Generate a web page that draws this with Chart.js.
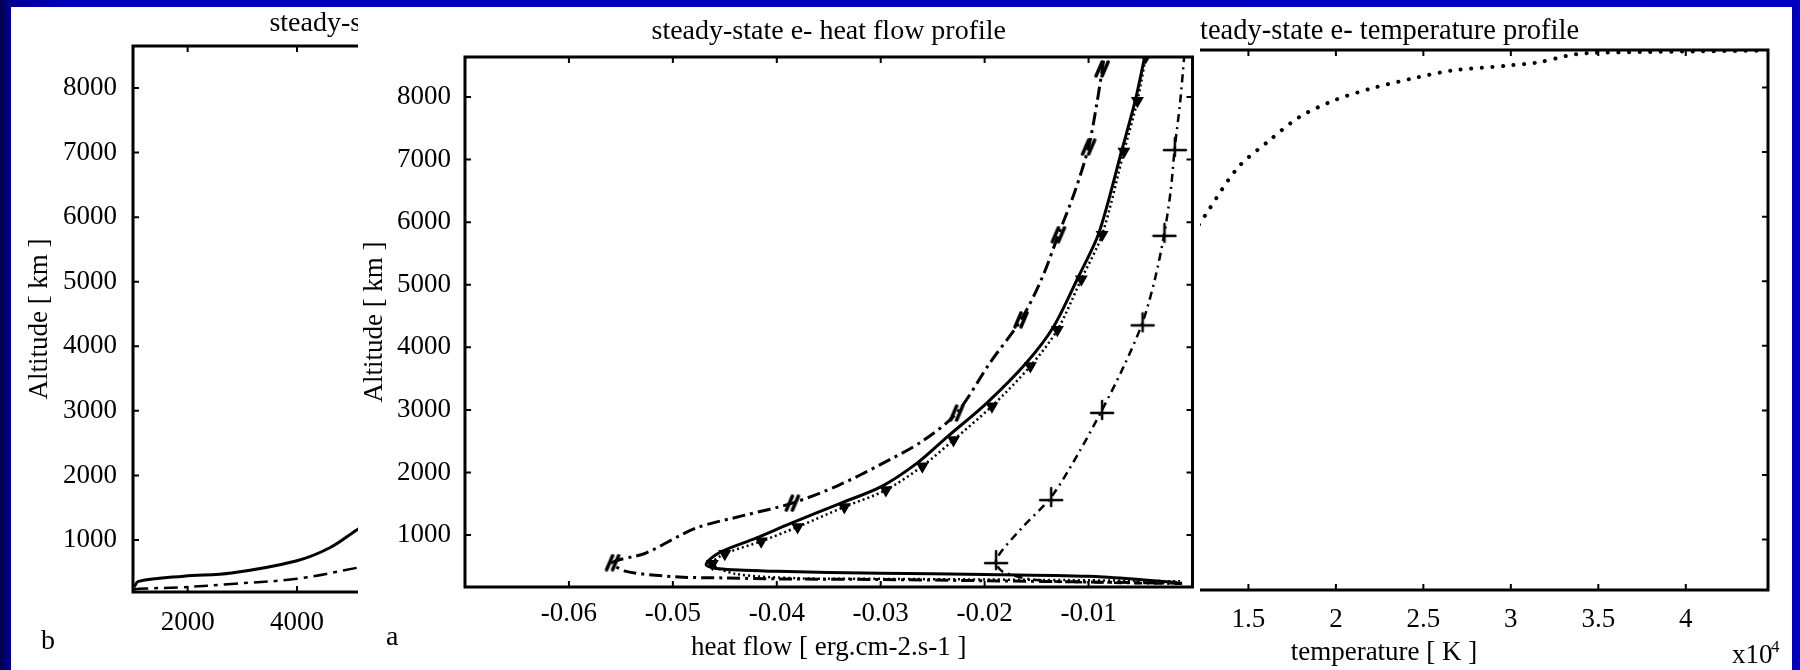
<!DOCTYPE html>
<html>
<head>
<meta charset="utf-8">
<script src="https://cdn.jsdelivr.net/npm/chart.js@4.4.1/dist/chart.umd.min.js"></script>
<style>
  html, body { margin: 0; padding: 0; }
  body {
    width: 1800px; height: 670px; overflow: hidden; position: relative;
    background: linear-gradient(90deg, #000048 0px, #000090 9px, #0000b4 60px, #0000c0 100%);
  }
  .sheet { position: absolute; left: 11px; top: 7px; width: 1781px; height: 663px; background: #fff; }
  .panel { position: absolute; top: 7px; height: 663px; background: #fff; }
  #panelB { left: 11px; width: 800px; z-index: 1; }
  #panelC { left: 900px; width: 892px; z-index: 2; }
  #panelA { left: 358px; width: 842px; z-index: 3; }
</style>
</head>
<body>
<div class="sheet"></div>
<div class="panel" id="panelB"><canvas id="chartB"></canvas></div>
<div class="panel" id="panelC"><canvas id="chartC"></canvas></div>
<div class="panel" id="panelA"><canvas id="chartA"></canvas></div>
<script>
// shared altitude axis
const altTicks = [1000, 2000, 3000, 4000, 5000, 6000, 7000, 8000];

// panel b - e- temperature [K]
const bTicksX = [2000, 4000, 6000, 8000, 10000, 12000];
const bSolidT = [1020, 1100, 1930, 2800, 4000, 4600, 5100, 5300];
const bSolidAlt = [270, 360, 440, 490, 680, 880, 1160, 1260];
const bDashT = [1020, 1100, 1930, 2800, 4000, 5100, 5300];
const bDashAlt = [235, 245, 270, 320, 400, 570, 610];

// panel a - e- heat flow [erg.cm-2.s-1]
const hfTicks = [-0.06, -0.05, -0.04, -0.03, -0.02, -0.01];
const hfTickLabels = ["-0.06", "-0.05", "-0.04", "-0.03", "-0.02", "-0.01"];

const hfSlash = [-0.0010, -0.0100, -0.0200, -0.0300, -0.0400, -0.0450, -0.0494, -0.0545, -0.0558, -0.0526, -0.0478, -0.0430, -0.0385, -0.0340, -0.0300, -0.0260, -0.0227, -0.0195, -0.0165, -0.0145, -0.0129, -0.0113, -0.0100, -0.0092, -0.0085];
const altSlash = [230, 250, 270, 290, 300, 315, 330, 420, 560, 712, 1110, 1320, 1510, 1800, 2130, 2500, 2950, 3750, 4440, 5100, 5800, 6500, 7200, 7900, 8640];
const hfSlashMarks = [-0.0558, -0.0385, -0.0227, -0.0165, -0.0129, -0.0100, -0.0087];
const altSlashMarks = [560, 1510, 2950, 4440, 5800, 7200, 8450];

const hfSolid = [-0.0015, -0.0060, -0.0100, -0.0200, -0.0300, -0.0400, -0.0456, -0.0468, -0.0456, -0.0420, -0.0386, -0.0340, -0.0300, -0.0265, -0.0236, -0.0198, -0.0160, -0.0134, -0.0110, -0.0090, -0.0068, -0.0055, -0.0046];
const altSolid = [240, 300, 340, 370, 390, 420, 460, 530, 712, 950, 1190, 1500, 1770, 2150, 2570, 3110, 3750, 4320, 5120, 5830, 7150, 7950, 8640];

const hfDot = [-0.0012, -0.0060, -0.0120, -0.0200, -0.0300, -0.0380, -0.0440, -0.0462, -0.0450, -0.0415, -0.0380, -0.0335, -0.0295, -0.0260, -0.0230, -0.0193, -0.0156, -0.0130, -0.0107, -0.0087, -0.0066, -0.0053, -0.0045];
const altDot = [260, 270, 280, 290, 300, 310, 380, 540, 700, 900, 1130, 1450, 1720, 2100, 2520, 3060, 3700, 4280, 5090, 5800, 7130, 7940, 8640];

const hfPlus = [-0.0010, -0.0080, -0.0150, -0.0183, -0.0189, -0.0165, -0.0136, -0.0110, -0.0087, -0.0066, -0.0048, -0.0036, -0.0027, -0.0021, -0.0017, -0.0012, -0.0008];
const altPlus = [220, 240, 280, 420, 600, 1100, 1607, 2300, 3000, 3700, 4400, 5100, 5830, 6500, 7200, 7900, 8640];
const hfPlusMarks = [-0.0189, -0.0136, -0.0087, -0.0048, -0.0027, -0.0017];
const altPlusMarks = [600, 1607, 3000, 4400, 5830, 7200];

// panel c - e- temperature [x10^4 K]
const cTicksX = [0.5, 1, 1.5, 2, 2.5, 3, 3.5, 4];
const cTickLabels = ["0.5", "1", "1.5", "2", "2.5", "3", "3.5", "4"];
const tempC = [1.15, 1.26, 1.44, 1.62, 1.79, 1.99, 2.21, 2.44, 2.66, 2.99, 3.16, 3.32, 3.43, 3.80, 4.09, 4.42];
const altC = [5600, 6050, 6760, 7180, 7540, 7800, 7990, 8140, 8260, 8340, 8390, 8490, 8530, 8550, 8560, 8570];

Chart.defaults.font.family = "'Liberation Serif', 'Times New Roman', serif";
Chart.defaults.color = "#000";

const pts = (xs, ys) => xs.map((x, i) => ({ x: x, y: ys[i] }));

function markerCanvas(w, h, draw) {
    const c = document.createElement("canvas");
    c.width = w; c.height = h;
    const g = c.getContext("2d");
    g.strokeStyle = "#000";
    g.lineCap = "round";
    draw(g);
    return c;
}
const slashMark = markerCanvas(18, 18, g => {
    g.lineWidth = 3.5;
    g.beginPath();
    g.moveTo(3, 16); g.lineTo(9, 2);
    g.moveTo(9, 16); g.lineTo(15, 2);
    g.stroke();
});
const plusMark = markerCanvas(26, 22, g => {
    g.lineWidth = 2.5;
    g.beginPath();
    g.moveTo(2, 14); g.lineTo(24, 14);
    g.moveTo(13, 2); g.lineTo(13, 20);
    g.stroke();
});

// box frame with inward ticks on all four sides, plus loose labels
const framePlugin = {
    id: "frame",
    afterDraw(chart, args, opts) {
        const { ctx, chartArea: a, scales: { x, y } } = chart;
        ctx.save();
        ctx.strokeStyle = "#000";
        ctx.lineWidth = 3;
        ctx.strokeRect(a.left, a.top, a.right - a.left, a.bottom - a.top);
        ctx.lineWidth = 2;
        ctx.beginPath();
        x.ticks.forEach(t => {
            const px = x.getPixelForValue(t.value);
            if (px <= a.left || px >= a.right) return;
            ctx.moveTo(px, a.bottom); ctx.lineTo(px, a.bottom - 6);
            ctx.moveTo(px, a.top); ctx.lineTo(px, a.top + 6);
        });
        y.ticks.forEach(t => {
            const py = y.getPixelForValue(t.value);
            ctx.moveTo(a.left, py); ctx.lineTo(a.left + 6, py);
            ctx.moveTo(a.right, py); ctx.lineTo(a.right - 6, py);
        });
        ctx.stroke();
        ctx.fillStyle = "#000";
        ctx.textBaseline = "middle";
        (opts.notes || []).forEach(n => {
            ctx.font = n.size + "px 'Liberation Serif', serif";
            ctx.textAlign = "left";
            const px = (n.from === "right" ? a.right : a.left) + n.dx;
            ctx.fillText(n.text, px, a.bottom + n.dy);
        });
        ctx.restore();
    }
};

function axisX(min, max, ticks, labels, height, pad, title, titlePad) {
    return {
        type: "linear", position: "bottom", min: min, max: max,
        afterBuildTicks: s => { s.ticks = ticks.map(v => ({ value: v })); },
        afterFit: s => { s.height = height; },
        grid: { display: false }, border: { display: false },
        ticks: { padding: pad, font: { size: 27 }, maxRotation: 0, autoSkip: false, callback: (v, i) => labels[i] },
        title: { display: !!title, text: title || "", font: { size: 27 }, padding: { top: 0, bottom: titlePad || 0 } }
    };
}
function axisY(min, max, width, pad, showLabels, titlePad) {
    return {
        type: "linear", min: min, max: max,
        afterBuildTicks: s => { s.ticks = altTicks.map(v => ({ value: v })); },
        afterFit: s => { s.width = width; },
        grid: { display: false }, border: { display: false },
        ticks: { display: showLabels, padding: pad, font: { size: 27 }, autoSkip: false, callback: v => String(v) },
        title: { display: showLabels, text: "Altitude [ km ]", font: { size: 27 }, padding: { top: titlePad, bottom: 0 } }
    };
}
function titleOpts(text, size, top, bottom) {
    return { display: true, text: text, fullSize: false, font: { size: size, weight: "normal" }, padding: { top: top, bottom: bottom } };
}

// Panel b (left, mostly hidden)
let chartB = new Chart(document.getElementById("chartB"), {
    type: "scatter",
    data: {
        datasets: [
            { data: pts(bSolidT, bSolidAlt), showLine: true, borderColor: "#000", borderWidth: 3, pointRadius: 0, tension: 0.35 },
            { data: pts(bDashT, bDashAlt), showLine: true, borderColor: "#000", borderWidth: 2.5, borderDash: [14, 6, 4, 6], pointRadius: 0, tension: 0.35 }
        ]
    },
    options: {
        responsive: true, maintainAspectRatio: false, animation: false,
        layout: { padding: { left: 0, right: 22, top: 0, bottom: 0 } },
        scales: {
            x: axisX(1000, 13000, bTicksX, bTicksX.map(String), 78, 6.8, null),
            y: axisY(195, 8650, 122, 8, true, 12.8)
        },
        plugins: {
            legend: { display: false }, tooltip: { enabled: false },
            title: titleOpts("steady-state e- temperature profile", 28, 0, 5.4),
            frame: { notes: [{ text: "b", dx: -92, dy: 50, size: 28 }] }
        }
    },
    plugins: [framePlugin]
});

// Panel c (right)
let chartC = new Chart(document.getElementById("chartC"), {
    type: "scatter",
    data: {
        datasets: [
            { data: pts(tempC, altC), showLine: true, borderColor: "#000", borderWidth: 4, borderDash: [0.1, 10.5], borderCapStyle: "round", pointRadius: 0, tension: 0.3 }
        ]
    },
    options: {
        responsive: true, maintainAspectRatio: false, animation: false,
        layout: { padding: { left: 0, right: 24, top: 0, bottom: 0 } },
        scales: {
            x: axisX(0.08, 4.47, cTicksX, cTickLabels, 80, 5.8, "temperature [ K ]", 0.8),
            y: axisY(220, 8580, 100, 7, false, 0)
        },
        plugins: {
            legend: { display: false }, tooltip: { enabled: false },
            title: titleOpts("steady-state e- temperature profile", 28.5, 7.9, 0.9),
            frame: { notes: [{ text: "x10", dx: -36, dy: 66, size: 27, from: "right" }, { text: "4", dx: 3, dy: 58, size: 17, from: "right" }] }
        }
    },
    plugins: [framePlugin]
});

// Panel a (middle, on top)
let chartA = new Chart(document.getElementById("chartA"), {
    type: "scatter",
    data: {
        datasets: [
            { data: pts(hfSlash, altSlash), showLine: true, borderColor: "#000", borderWidth: 3, borderDash: [13, 5, 3, 5], pointRadius: 0, tension: 0.3 },
            { data: pts(hfSlashMarks, altSlashMarks), showLine: false, pointStyle: slashMark, pointRadius: 6 },
            { data: pts(hfSolid, altSolid), showLine: true, borderColor: "#000", borderWidth: 3, pointRadius: 0, tension: 0.3 },
            { data: pts(hfDot, altDot), showLine: true, borderColor: "#000", borderWidth: 2.5, borderDash: [2, 3], tension: 0.3,
              pointStyle: "triangle", rotation: 180, pointBackgroundColor: "#000", pointBorderColor: "#000",
              pointRadius: ctx => (ctx.dataIndex > 6 ? 5 : 0) },
            { data: pts(hfPlus, altPlus), showLine: true, borderColor: "#000", borderWidth: 2.5, borderDash: [8, 5, 2, 5], pointRadius: 0, tension: 0.3 },
            { data: pts(hfPlusMarks, altPlusMarks), showLine: false, pointStyle: plusMark, pointRadius: 6 }
        ]
    },
    options: {
        responsive: true, maintainAspectRatio: false, animation: false,
        layout: { padding: { left: 0, right: 3, top: 0, bottom: 0 } },
        scales: {
            x: axisX(-0.07, 0, hfTicks, hfTickLabels, 83, 3, "heat flow [ erg.cm-2.s-1 ]", 5.8),
            y: axisY(170, 8640, 107, 6, true, 0.8)
        },
        plugins: {
            legend: { display: false }, tooltip: { enabled: false },
            title: titleOpts("steady-state e- heat flow profile", 28, 8.2, 8.2),
            frame: { notes: [{ text: "a", dx: -79, dy: 51, size: 28 }] }
        }
    },
    plugins: [framePlugin]
});
</script>
</body>
</html>
